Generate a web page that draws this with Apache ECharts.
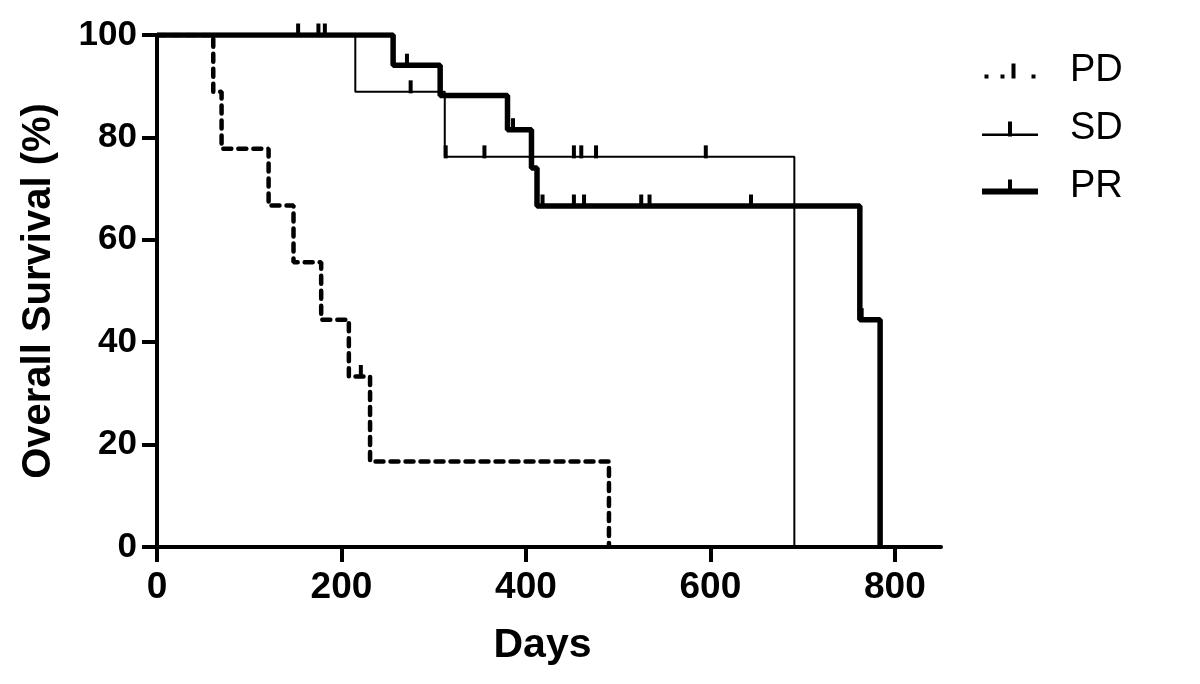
<!DOCTYPE html>
<html>
<head>
<meta charset="utf-8">
<title>Overall Survival</title>
<script src="https://cdn.jsdelivr.net/npm/echarts@6/dist/echarts.min.js"></script>
<style>
  html, body { margin: 0; padding: 0; background: #fff; }
  #chart { width: 1200px; height: 684px; }
</style>
</head>
<body>
<div id="chart"></div>
<script>
// Kaplan-Meier steps (days, survival % after each death)
var groupNames = ['PD', 'SD', 'PR'];

var pdDeathDays = [61, 70, 121, 148, 178, 208, 231, 490];
var pdSurvival  = [88.9, 77.8, 66.7, 55.6, 44.4, 33.3, 16.7, 0];
var pdCensored  = [221];

var sdDeathDays = [215, 312, 691];
var sdSurvival  = [88.9, 76.2, 0];
var sdCensored  = [275, 313, 355, 452, 460, 476, 595];

var prDeathDays = [256, 307, 380, 406, 412, 762, 784];
var prSurvival  = [94.1, 88.2, 81.5, 74.0, 66.6, 44.4, 0];
var prCensored  = [153, 175, 182, 271, 386, 418, 452, 463, 525, 534, 644, 764];

var xTicks = [0, 200, 400, 600, 800];

// builds step-line points; censored points carry the tick symbol
function kmPoints(deaths, surv, censored) {
  var events = [];
  deaths.forEach(function (d, i) { events.push({ t: d, s: surv[i], c: false }); });
  censored.forEach(function (d) { events.push({ t: d, c: true }); });
  events.sort(function (a, b) { return a.t - b.t || (a.c ? 1 : -1); });
  var cur = 100;
  var pts = [{ value: [0, 100], symbol: 'none' }];
  events.forEach(function (e) {
    if (e.c) {
      pts.push({ value: [e.t, cur] });
    } else {
      cur = e.s;
      pts.push({ value: [e.t, cur], symbol: 'none' });
    }
  });
  return pts;
}

var chart = echarts.init(document.getElementById('chart'));

var font = '"Liberation Sans", Arial, sans-serif';

// legend glyphs: line sample with a censor tick, like the prism-style key
var legendIcons = {
  PD: 'path://M0,11h4v4h-4z M16,11h4v4h-4z M27,0h4v15h-4z M47,11h4v4h-4z',
  SD: 'path://M0,12h56v2.5h-56z M26,0h4v15h-4z',
  PR: 'path://M0,9h56v6h-56z M26,0h4v15h-4z'
};

function kmSeries(name, data, width, dash) {
  return {
    name: name,
    type: 'line',
    step: 'end',
    data: data,
    symbol: 'rect',
    symbolSize: [4, 13],
    symbolOffset: [0, -5],
    showAllSymbol: true,
    animation: false,
    itemStyle: { color: '#000' },
    lineStyle: {
      color: '#000',
      width: width,
      type: dash ? [8, 7] : 'solid',
      cap: dash ? 'round' : 'butt'
    }
  };
}

chart.setOption({
  backgroundColor: '#fff',
  grid: { left: 157, right: 259, top: 35, bottom: 137 },
  legend: {
    orient: 'vertical',
    left: 982,
    top: 52,
    padding: 0,
    itemWidth: 56,
    itemHeight: 15,
    itemGap: 20,
    data: groupNames.map(function (n) {
      return { name: n, icon: legendIcons[n] };
    }),
    textStyle: {
      fontFamily: font,
      fontSize: 38,
      color: '#000',
      padding: [0, 0, 0, 27]
    }
  },
  xAxis: {
    type: 'value',
    min: 0,
    max: 850,
    interval: 200,
    name: 'Days',
    nameLocation: 'middle',
    nameGap: 78,
    nameTextStyle: {
      fontFamily: font, fontSize: 41, fontWeight: 'bold', color: '#000',
      padding: [0, 13, 0, 0]
    },
    axisLine: { lineStyle: { color: '#000', width: 4 } },
    axisTick: { show: true, length: 15, lineStyle: { color: '#000', width: 4 }, customValues: xTicks },
    axisLabel: {
      fontFamily: font, fontSize: 37, fontWeight: 'bold', color: '#000', margin: 22,
      customValues: xTicks
    },
    splitLine: { show: false }
  },
  yAxis: {
    type: 'value',
    min: 0,
    max: 100,
    interval: 20,
    name: 'Overall Survival (%)',
    nameLocation: 'middle',
    nameGap: 98,
    nameTextStyle: { fontFamily: font, fontSize: 40, fontWeight: 'bold', color: '#000' },
    axisLine: { show: true, lineStyle: { color: '#000', width: 4 } },
    axisTick: { show: true, length: 15, lineStyle: { color: '#000', width: 4 } },
    axisLabel: { fontFamily: font, fontSize: 35, fontWeight: 'bold', color: '#000', margin: 20 },
    splitLine: { show: false }
  },
  series: [
    kmSeries('PD', kmPoints(pdDeathDays, pdSurvival, pdCensored), 4.5, true),
    kmSeries('SD', kmPoints(sdDeathDays, sdSurvival, sdCensored), 2, false),
    kmSeries('PR', kmPoints(prDeathDays, prSurvival, prCensored), 5.5, false)
  ]
});
</script>
</body>
</html>
